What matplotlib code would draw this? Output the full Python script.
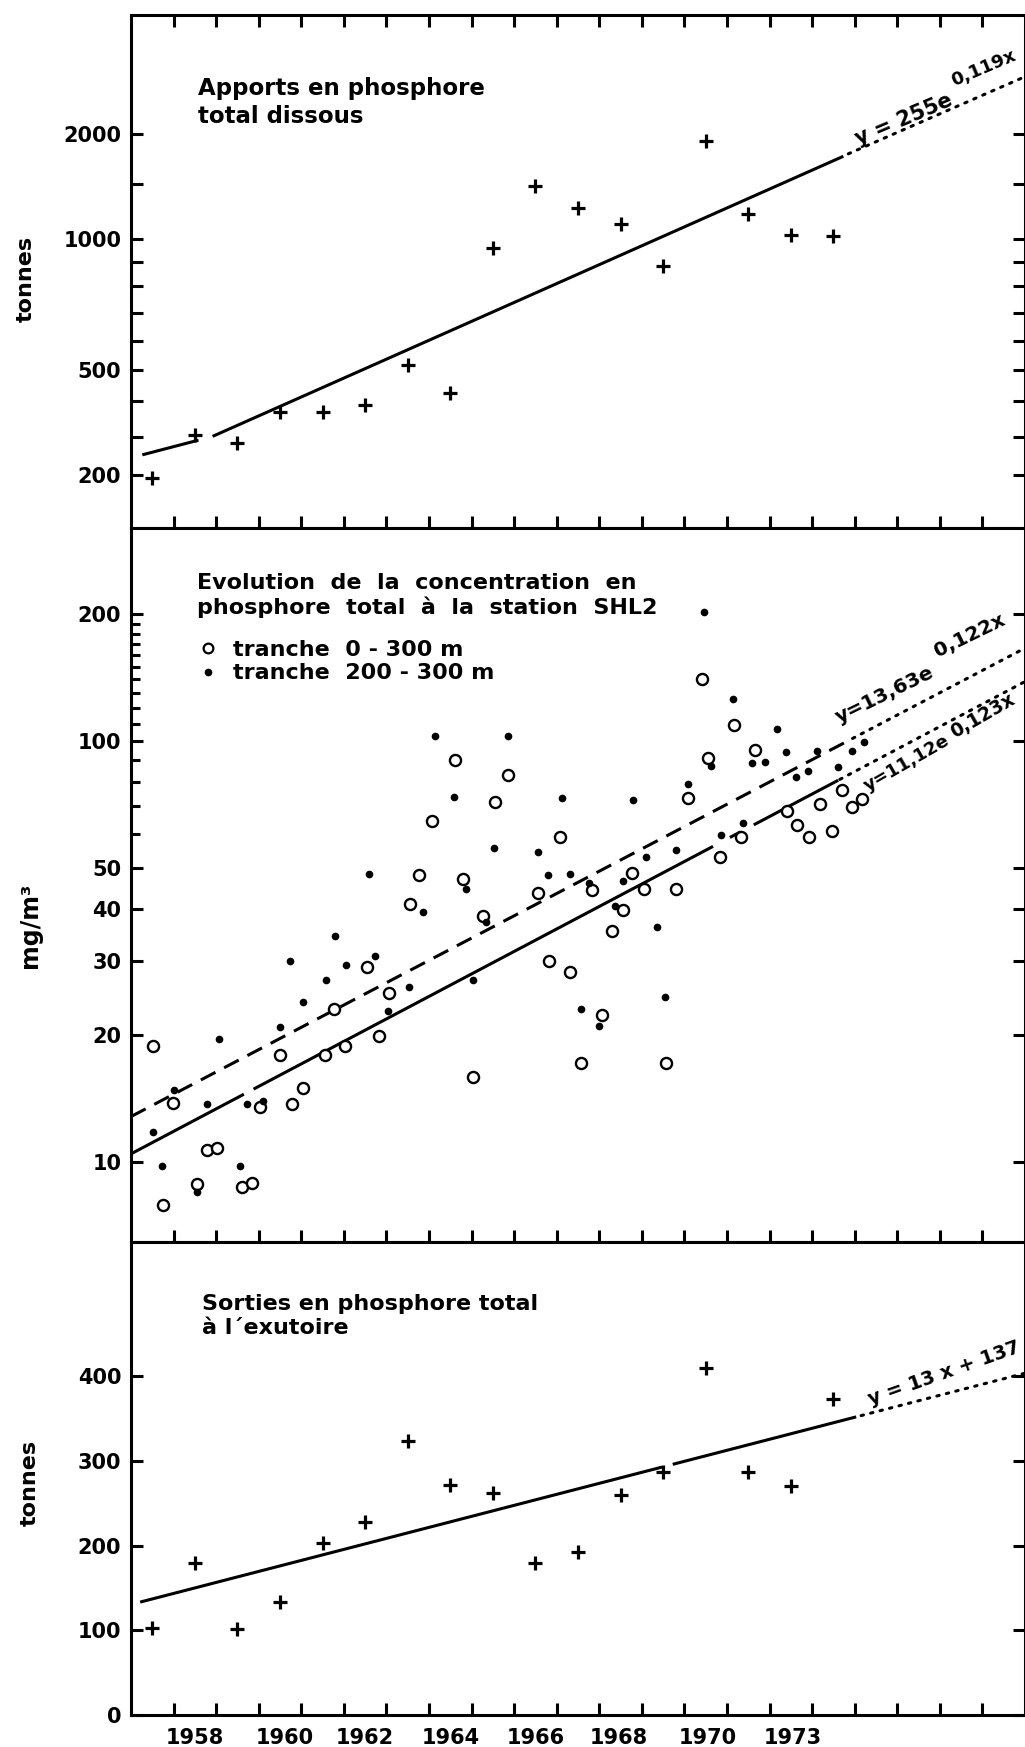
import numpy as np
import matplotlib
matplotlib.use("Agg")
import matplotlib.pyplot as plt
from matplotlib.lines import Line2D

plt.rcParams['font.family'] = ['DejaVu Sans']
plt.rcParams['font.weight'] = 'bold'

# --- valeurs ---
annees = np.arange(1957, 1974)
apports = [193, 305, 281, 366, 366, 386, 517, 424, 960, 1480,
           1256, 1121, 882, 1922, 1203, 1033, 1023]
sorties = [103, 180, 102, 133, 203, 228, 324, 271, 262, 179,
           193, 260, 287, 410, 287, 270, 373]

# tranche 0 - 300 m (cercles)
t_0_300 = [1957.52, 1957.74, 1957.99, 1958.54, 1958.79, 1959.01, 1959.60, 1959.85,
           1960.04, 1960.51, 1960.79, 1961.05, 1961.55, 1961.78, 1962.02, 1962.55,
           1962.82, 1963.06, 1963.56, 1963.77, 1964.07, 1964.60, 1964.79, 1965.03,
           1965.27, 1965.56, 1965.85, 1966.56, 1966.83, 1967.08, 1967.32, 1967.57,
           1967.83, 1968.06, 1968.31, 1968.55, 1968.76, 1969.06, 1969.56, 1969.80,
           1970.08, 1970.41, 1970.56, 1970.84, 1971.16, 1971.34, 1971.66, 1972.40,
           1972.65, 1972.92, 1973.18, 1973.46, 1973.69, 1973.94, 1974.18]
c_0_300 = [18.9, 7.9, 13.8, 8.85, 10.7, 10.8, 8.7, 8.9,
           13.5, 18.0, 13.7, 15.0, 18.0, 23.1, 18.9, 29.0,
           19.9, 25.2, 40.9, 48.1, 64.7, 90.1, 47.0, 15.9,
           38.4, 71.8, 83.0, 43.6, 30.0, 59.2, 28.3, 17.2,
           44.3, 22.4, 35.4, 39.7, 48.5, 44.5, 17.2, 44.5,
           73.1, 140, 91.0, 53.1, 109, 59.3, 95.2, 68.2,
           63.2, 59.1, 70.7, 61.1, 76.5, 69.6, 72.7]

# tranche 200 - 300 m (points)
t_200_300 = [1957.52, 1957.72, 1958.01, 1958.56, 1958.79, 1959.07, 1959.55, 1959.73,
             1960.10, 1960.51, 1960.73, 1961.05, 1961.57, 1961.80, 1962.06, 1962.60,
             1962.73, 1963.03, 1963.54, 1963.86, 1964.13, 1964.58, 1964.88, 1965.03,
             1965.35, 1965.52, 1965.86, 1966.55, 1966.79, 1967.12, 1967.32, 1967.58,
             1967.76, 1968.00, 1968.36, 1968.55, 1968.80, 1969.10, 1969.35, 1969.55,
             1969.80, 1970.08, 1970.47, 1970.62, 1970.86, 1971.13, 1971.38, 1971.58,
             1971.89, 1972.17, 1972.38, 1972.63, 1972.91, 1973.12, 1973.61, 1973.93,
             1974.21]
c_200_300 = [11.8, 9.8, 14.8, 8.5, 13.7, 19.6, 9.8, 13.7,
             14.0, 20.9, 30.0, 24.0, 27.0, 34.4, 29.4, 48.3,
             30.8, 22.8, 26.0, 39.3, 103, 73.7, 44.4, 27.0,
             37.2, 55.8, 103, 54.6, 48.1, 73.1, 48.3, 23.1,
             46.1, 21.0, 40.6, 46.4, 72.4, 53.1, 36.2, 24.7,
             55.1, 78.9, 202, 87.4, 59.8, 126, 64.0, 88.8,
             89.0, 107, 94.3, 82.0, 84.8, 94.8, 86.6, 94.8,
             99.6]

# ajustements (x compte en annees depuis 1957)
x0 = 1957.5
fit_apports = (255, 0.119)
fit_200_300 = (13.63, 0.122)
fit_0_300 = (11.12, 0.123)
fit_sorties = (13, 137)

xlab_txt = ['1958', '1960', '1962', '1964', '1966', '1968', '1970', '1973']
xlab_pos = [1958.5, 1960.6, 1962.5, 1964.5, 1966.5, 1968.45, 1970.55, 1972.55]

top_ticks = [200, 300, 400, 500, 600, 700, 800, 900, 1000, 1500, 2000]
top_labels = ['200', '', '', '500', '', '', '', '', '1000', '', '2000']
mid_ticks = [10, 20, 30, 40, 50, 100, 200]
mid_minor = [60, 70, 80, 90, 110, 120, 130, 140, 150, 160, 170, 180, 190]
bot_ticks = [0, 100, 200, 300, 400]

# l'axe du haut est trace a la main : hauteur (px) de chaque graduation
grad_px = [475, 437, 401, 370, 341, 313, 286, 262, 239, 184, 134]
lv = np.log10([114] + top_ticks + [4400])
fr = (528 - np.array([528] + grad_px + [15])) / 513.0


def fwd(v):
    v = np.clip(np.asarray(v, dtype=float), 1e-6, None)
    return np.interp(np.log10(v), lv, fr)


def inv(f):
    return 10 ** np.interp(f, fr, lv)


def expo(p):
    return lambda t: p[0] * np.exp(p[1] * (t - x0))


def lin(p):
    return lambda t: p[0] * (t - x0) + p[1]


def trace(ax, f, segs, **kw):
    for a, b in segs:
        ax.plot([a, b], [f(a), f(b)], color='black', **kw)


def equation(ax, x, y, s, rot, size=14):
    ax.text(x, y, s, transform=ax.transAxes, fontsize=size, rotation=rot,
            rotation_mode='anchor', ha='left', va='baseline')


LW = 2.2
DOT = dict(lw=2.2, ls=(0, (0.8, 2.4)), dash_capstyle='round')
fig = plt.figure(figsize=(10.25, 17.47), dpi=100)
ax1 = fig.add_axes([131 / 1025, 1 - 528 / 1747, 894 / 1025, 513 / 1747])
ax2 = fig.add_axes([131 / 1025, 1 - 1242 / 1747, 894 / 1025, 714 / 1747])
ax3 = fig.add_axes([131 / 1025, 1 - 1715 / 1747, 894 / 1025, 473 / 1747])

for ax in (ax1, ax2, ax3):
    ax.set_xlim(1957, 1978)
    ax.set_xticks(range(1958, 1978))
    for s in ax.spines.values():
        s.set_linewidth(LW)
    ax.tick_params(direction='in', length=8.5, width=LW, labelsize=15, pad=7)

# --- panneau 1 : apports ---
ax1.set_yscale('function', functions=(fwd, inv))
ax1.set_ylim(114, 4400)
ax1.set_yticks(top_ticks)
ax1.set_yticklabels(top_labels)
ax1.yaxis.set_minor_locator(plt.NullLocator())
ax1.tick_params(axis='x', top=True, bottom=True, labelbottom=False)
ax1.tick_params(axis='y', left=True, right=True)
ax1.plot(annees + 0.5, apports, ls='none', marker='+', ms=9.5, mew=2.3, color='black')
f1 = expo(fit_apports)
trace(ax1, f1, [(1957.3, 1958.55), (1958.95, 1973.7)], lw=LW)
trace(ax1, f1, [(1973.85, 1978)], **DOT)
ax1.text(0.075, 0.83, 'Apports en phosphore\ntotal dissous', transform=ax1.transAxes,
         fontsize=16.5, va='center', ha='left', linespacing=1.3)
equation(ax1, 0.8132, 0.7466, 'y = 255e', 23, 15)
equation(ax1, 0.92, 0.8616, '0,119x', 23, 13)

# --- panneau 2 : concentration ---
ax2.set_yscale('log')
ax2.set_ylim(6.457, 320.6)
ax2.set_yticks(mid_ticks)
ax2.set_yticklabels([str(v) for v in mid_ticks])
ax2.set_yticks(mid_minor, minor=True)
ax2.yaxis.set_minor_formatter(plt.NullFormatter())
ax2.tick_params(axis='y', which='major', left=True, right=True)
ax2.tick_params(axis='y', which='minor', left=True, right=False, direction='in',
                length=6.5, width=LW)
ax2.tick_params(axis='x', top=False, bottom=True, labelbottom=False)
f2d = expo(fit_200_300)
f2s = expo(fit_0_300)
trace(ax2, f2d, [(1957.0, 1973.85)], lw=LW, ls=(0, (5.4, 3.2)))
trace(ax2, f2d, [(1973.95, 1978)], **DOT)
trace(ax2, f2s, [(1957.0, 1959.62), (1959.91, 1970.64), (1971.1, 1971.28),
                 (1971.66, 1973.58)], lw=LW)
trace(ax2, f2s, [(1973.65, 1978)], **DOT)
ax2.plot(t_0_300, c_0_300, ls='none', marker='o', ms=8, mfc='white', mec='black',
         mew=1.7, zorder=3)
ax2.plot(t_200_300, c_200_300, ls='none', marker='o', ms=4.5, color='black', zorder=4)
ax2.text(0.0738, 0.906,
         'Evolution  de  la  concentration  en\nphosphore  total  à  la  station  SHL2',
         transform=ax2.transAxes, fontsize=16, va='center', ha='left', linespacing=1.2)
h_open = Line2D([], [], ls='none', marker='o', mfc='white', mec='black', ms=7, mew=1.6)
h_fill = Line2D([], [], ls='none', marker='o', color='black', ms=4.5)
ax2.legend([h_open, h_fill], ['tranche  0 - 300 m', 'tranche  200 - 300 m'],
           loc='upper left', bbox_to_anchor=(0.0738, 0.843), frameon=False,
           prop={'size': 16, 'weight': 'bold'}, handlelength=1.0, handletextpad=0.6,
           labelspacing=0.15, borderpad=0, borderaxespad=0)
equation(ax2, 0.792, 0.727, 'y=13,63e', 26, 14.5)
equation(ax2, 0.9027, 0.8193, '0,122x', 26, 14.5)
equation(ax2, 0.8244, 0.6303, 'y=11,12e', 30, 13)
equation(ax2, 0.9215, 0.7059, '0,123x', 30, 13.5)

# --- panneau 3 : sorties ---
ax3.set_ylim(0, 558.4)
ax3.set_yticks(bot_ticks)
ax3.tick_params(axis='y', left=True, right=True)
ax3.tick_params(axis='x', which='major', top=False, bottom=True, labelbottom=False)
ax3.set_xticks(xlab_pos, minor=True)
ax3.set_xticklabels(xlab_txt, minor=True)
ax3.tick_params(axis='x', which='minor', length=0, labelbottom=True, pad=9, labelsize=15)
ax3.plot(annees + 0.5, sorties, ls='none', marker='+', ms=9.5, mew=2.3, color='black')
f3 = lin(fit_sorties)
trace(ax3, f3, [(1957.25, 1969.44), (1969.76, 1974.0)], lw=LW)
trace(ax3, f3, [(1974.15, 1978)], **DOT)
ax3.text(0.0794, 0.8436, 'Sorties en phosphore total\nà l\u00b4exutoire', transform=ax3.transAxes,
         fontsize=16, va='center', ha='left', linespacing=1.2)
equation(ax3, 0.8277, 0.655, 'y = 13 x + 137', 19.5, 14)

fig.text(26 / 1025, 1 - 279 / 1747, 'tonnes', rotation=90, ha='center', va='center', fontsize=16)
fig.text(30 / 1025, 1 - 925 / 1747, 'mg/m³', rotation=90, ha='center', va='center', fontsize=17)
fig.text(30 / 1025, 1 - 1483 / 1747, 'tonnes', rotation=90, ha='center', va='center', fontsize=16)

fig.savefig('out.png', dpi=100)
